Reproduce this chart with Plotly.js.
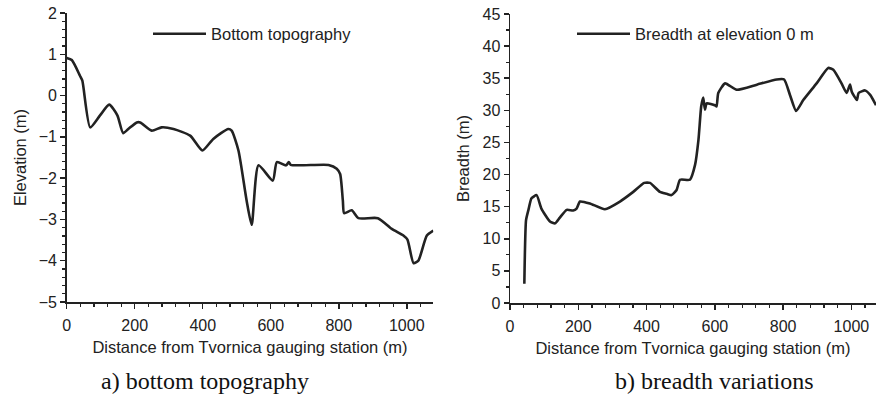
<!DOCTYPE html>
<html>
<head>
<meta charset="utf-8">
<script src="https://cdn.plot.ly/plotly-3.0.1.min.js"></script>
<style>html,body{margin:0;padding:0;background:#fff;}#chart{width:876px;height:400px;}</style>
</head>
<body>
<div id="chart"></div>
<script>
// a) bottom topography
const distTopo = [0, 15, 39, 46, 69, 98, 125, 149, 166, 181, 206, 216, 250, 279, 314, 363, 399, 431, 475, 485, 505, 529, 544, 564, 606, 618, 645, 653, 659, 770, 794, 804, 812, 816, 838, 858, 915, 956, 990, 1002, 1020, 1034, 1059, 1078];
const elevTopo = [0.91, 0.86, 0.48, 0.36, -0.77, -0.48, -0.22, -0.48, -0.91, -0.81, -0.65, -0.65, -0.85, -0.77, -0.81, -0.97, -1.33, -1.05, -0.81, -0.85, -1.33, -2.54, -3.13, -1.69, -2.06, -1.61, -1.69, -1.61, -1.68, -1.68, -1.77, -1.90, -2.54, -2.85, -2.78, -2.97, -2.97, -3.23, -3.39, -3.49, -4.06, -4.00, -3.39, -3.27];

// b) breadth variations
const distBreadth = [42, 47, 54, 63, 78, 92, 117, 132, 146, 166, 185, 195, 205, 234, 278, 322, 361, 393, 410, 439, 459, 473, 488, 498, 527, 542, 552, 560, 566, 571, 576, 600, 605, 610, 630, 664, 723, 781, 803, 820, 838, 859, 898, 932, 947, 971, 986, 996, 1001, 1016, 1021, 1040, 1055, 1072];
const breadth = [3.0, 12.9, 14.5, 16.3, 16.8, 14.7, 12.7, 12.4, 13.3, 14.5, 14.4, 14.7, 15.8, 15.5, 14.6, 15.8, 17.3, 18.7, 18.7, 17.3, 17.0, 16.8, 17.6, 19.2, 19.2, 21.5, 25.4, 30.6, 32.0, 30.1, 31.1, 30.8, 30.6, 32.7, 34.2, 33.2, 34.0, 34.8, 34.8, 32.4, 29.9, 31.6, 34.2, 36.6, 36.3, 34.2, 32.7, 34.0, 32.9, 31.6, 32.7, 33.1, 32.4, 30.8];

const xTitle = 'Distance from Tvornica gauging station (m)';
const xTicks = [0, 200, 400, 600, 800, 1000];
const topoTicks = [-5, -4, -3, -2, -1, 0, 1, 2];
const breadthTicks = [0, 5, 10, 15, 20, 25, 30, 35, 40, 45];

const ink = '#222';
const sans = 'Liberation Sans, Arial, sans-serif';
const fs = 16;
const fsTitle = 16.5;

const traces = [
  {x: distTopo, y: elevTopo, type: 'scatter', mode: 'lines', name: 'Bottom topography',
   line: {color: ink, width: 2.6, shape: 'spline', smoothing: 0.6}, xaxis: 'x', yaxis: 'y', legend: 'legend'},
  {x: distBreadth, y: breadth, type: 'scatter', mode: 'lines', name: 'Breadth at elevation 0 m',
   line: {color: ink, width: 2.6, shape: 'spline', smoothing: 0.5}, xaxis: 'x2', yaxis: 'y2', legend: 'legend2'}
];

function minorTicks(d) {
  return {ticks: 'outside', ticklen: 3, tickwidth: 1.2, tickcolor: ink, dtick: d, tick0: 0, showgrid: false};
}

function axis(extra) {
  return Object.assign({
    showline: true, linecolor: ink, linewidth: 1.5, mirror: false,
    ticks: 'outside', ticklen: 5, tickwidth: 1.5, tickcolor: ink,
    showgrid: false, zeroline: false,
    tickfont: {family: sans, size: fs, color: ink}
  }, extra);
}

const layout = {
  width: 876, height: 400,
  margin: {l: 0, r: 0, t: 0, b: 0},
  paper_bgcolor: '#fff', plot_bgcolor: '#fff',
  showlegend: true,
  xaxis: axis({domain: [66.7/876, 433.3/876], range: [0, 1078], tickvals: xTicks, minor: minorTicks(40), ticklabelstandoff: 3,
    title: {text: xTitle, font: {family: sans, size: fsTitle, color: ink}, standoff: 8}, anchor: 'y'}),
  yaxis: axis({domain: [(400-302)/400, (400-13)/400], range: [-5, 2], tickvals: topoTicks, minor: minorTicks(0.2),
    title: {text: 'Elevation (m)', font: {family: sans, size: fsTitle, color: ink}, standoff: 8}, anchor: 'x'}),
  xaxis2: axis({domain: [510/876, 1], range: [0, 1072], tickvals: xTicks, minor: minorTicks(40), ticklabelstandoff: 3,
    title: {text: xTitle, font: {family: sans, size: fsTitle, color: ink}, standoff: 8}, anchor: 'y2'}),
  yaxis2: axis({domain: [(400-303)/400, (400-14)/400], range: [0, 45], tickvals: breadthTicks, minor: minorTicks(2.5),
    title: {text: 'Breadth (m)', font: {family: sans, size: fsTitle, color: ink}, standoff: 8}, anchor: 'x2'}),
  legend: {x: 148/876, y: 1 - 34/400, xanchor: 'left', yanchor: 'middle', bgcolor: 'rgba(0,0,0,0)',
    font: {family: sans, size: fsTitle, color: ink}, itemwidth: 53, borderwidth: 0},
  legend2: {x: 572/876, y: 1 - 34/400, xanchor: 'left', yanchor: 'middle', bgcolor: 'rgba(0,0,0,0)',
    font: {family: sans, size: fsTitle, color: ink}, itemwidth: 53, borderwidth: 0},
  annotations: [
    {text: 'a) bottom topography', xref: 'paper', yref: 'paper', x: 204.5/876, y: 1 - 381/400, xanchor: 'center', yanchor: 'middle',
     showarrow: false, font: {family: 'Liberation Serif, Times New Roman, serif', size: 24, color: '#111'}},
    {text: 'b) breadth variations', xref: 'paper', yref: 'paper', x: 714.5/876, y: 1 - 381/400, xanchor: 'center', yanchor: 'middle',
     showarrow: false, font: {family: 'Liberation Serif, Times New Roman, serif', size: 24, color: '#111'}}
  ]
};

Plotly.newPlot('chart', traces, layout, {displayModeBar: false, staticPlot: true});
</script>
</body>
</html>
